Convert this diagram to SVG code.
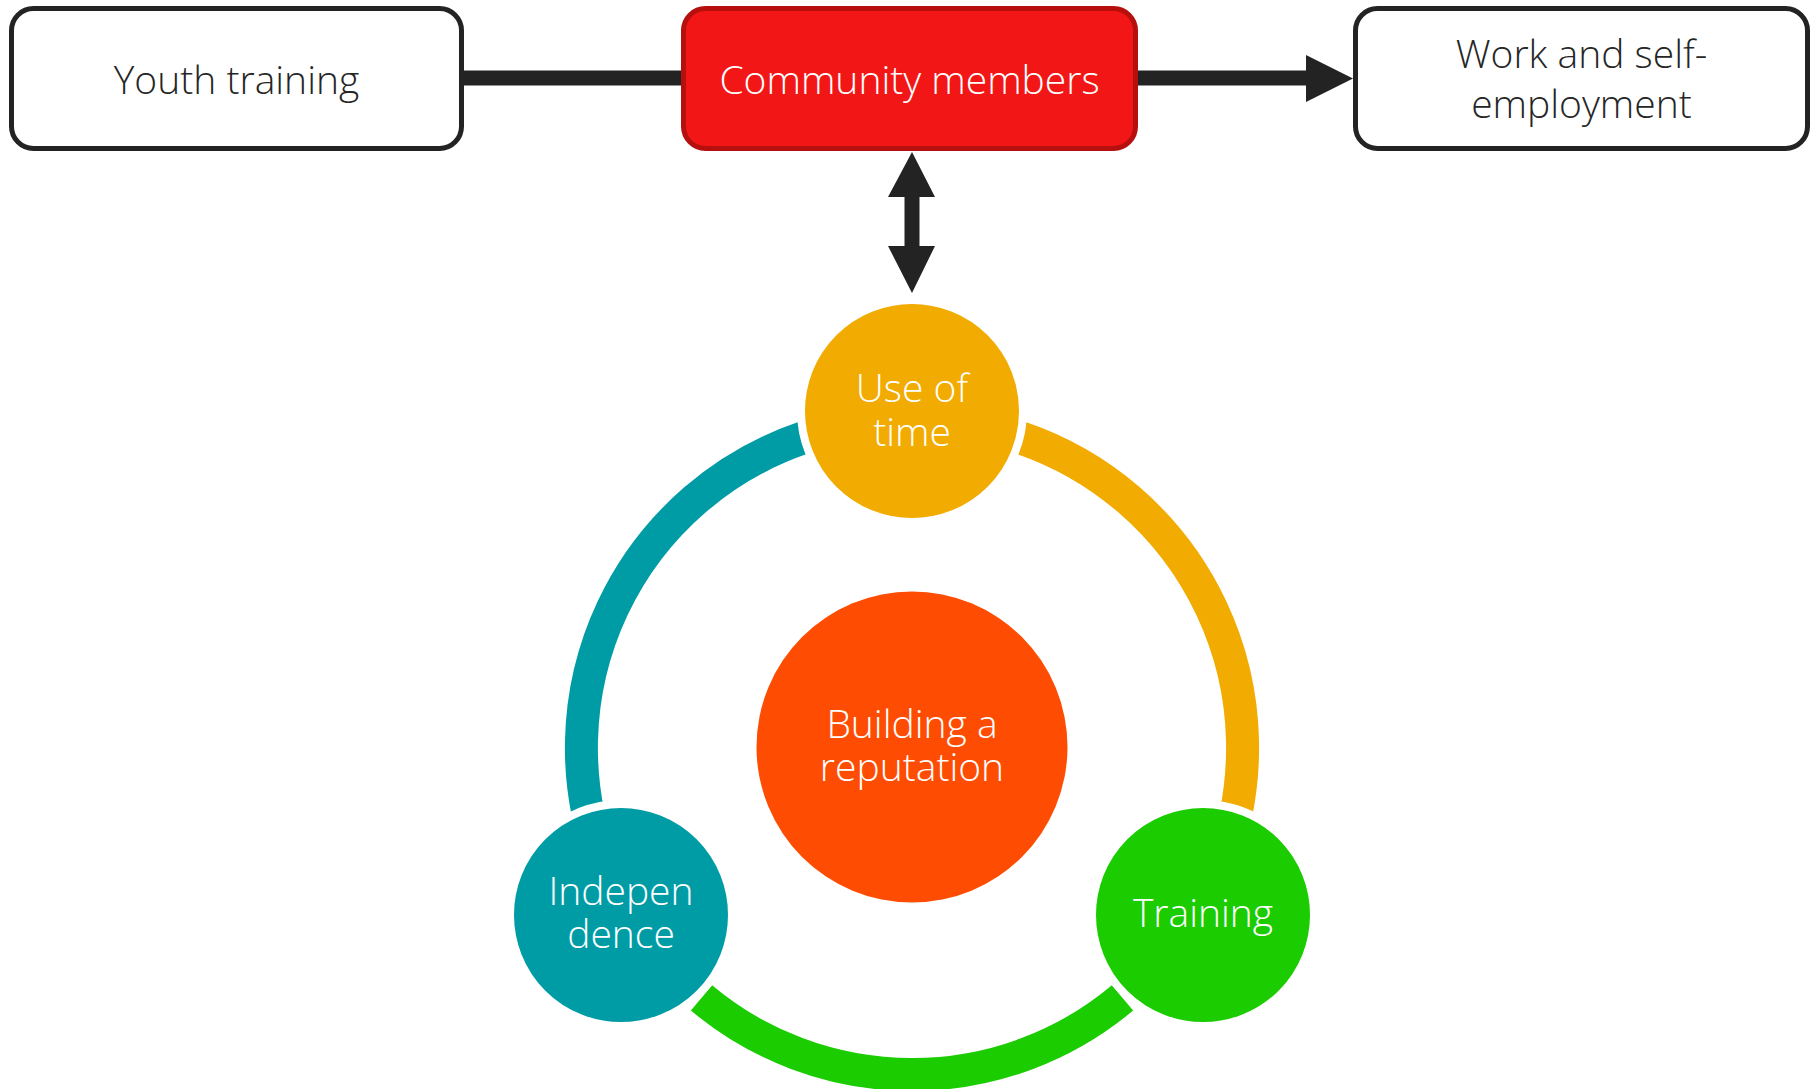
<svg xmlns="http://www.w3.org/2000/svg" width="1816" height="1089" viewBox="0 0 1816 1089">
<style>
text{font-family:"Open Sans","Liberation Sans",sans-serif;font-weight:300;font-size:39px;text-anchor:middle}
.box{fill:#fff;stroke:#232323;stroke-width:5}
.dark{fill:#262626}
.light{fill:#fff}
.arc{fill:none;stroke-width:33;stroke-linecap:butt}
.node{stroke:#fff;stroke-width:8}
</style>
<rect width="1816" height="1089" fill="#fff"/>
<g id="connectors" fill="#232323">
<rect x="462" y="70.5" width="222" height="15"/>
<rect x="1134" y="70.5" width="174" height="15"/>
<polygon points="1306,55 1353,78.5 1306,102"/>
<polygon points="912,152 935,197 919.5,197 919.5,246 935,246 912,293 888,246 904.5,246 904.5,197 888,197"/>
</g>
<g id="ring">
<path class="arc" stroke="#009CA6" d="M 602.6 863.7 A 327.5 327.5 0 0 1 803.6 437.7"/>
<path class="arc" stroke="#F2AB00" d="M 1020.4 437.7 A 327.5 327.5 0 0 1 1221.4 863.7"/>
<path class="arc" stroke="#1ACC00" d="M 1122.5 997.9 A 327.5 327.5 0 0 1 701.5 997.9"/>
</g>
<g id="node-youth">
<rect class="box" x="11.5" y="8.5" width="450" height="140" rx="22"/>
<text class="dark" x="236.5" y="94">Youth training</text>
</g>
<g id="node-community">
<rect x="683.5" y="8.5" width="452" height="140" rx="22" fill="#F21716" stroke="#B5100E" stroke-width="5"/>
<text class="light" x="909.5" y="94">Community members</text>
</g>
<g id="node-work">
<rect class="box" x="1355.5" y="8.5" width="452" height="140" rx="22"/>
<text class="dark" x="1581.5" y="68">Work and self-</text>
<text class="dark" x="1581.5" y="118">employment</text>
</g>
<g id="node-use-of-time">
<circle class="node" cx="912" cy="411" r="111" fill="#F2AB00"/>
<text class="light" x="912" y="402">Use of</text>
<text class="light" x="912" y="446">time</text>
</g>
<g id="node-independence">
<circle class="node" cx="621" cy="915" r="111" fill="#009CA6"/>
<text class="light" x="621" y="905">Indepen</text>
<text class="light" x="621" y="948">dence</text>
</g>
<g id="node-training">
<circle class="node" cx="1203" cy="915" r="111" fill="#1ACC00"/>
<text class="light" x="1203" y="927">Training</text>
</g>
<g id="node-reputation">
<circle cx="912" cy="747" r="155.5" fill="#FE4C02"/>
<text class="light" x="912" y="738">Building a</text>
<text class="light" x="912" y="781">reputation</text>
</g>
</svg>
